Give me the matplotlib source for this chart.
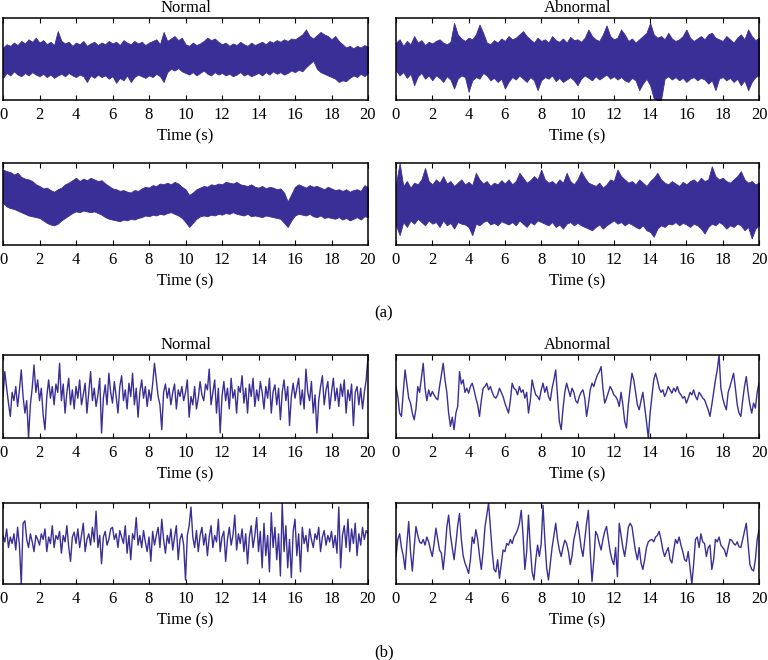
import numpy as np
import matplotlib
matplotlib.use("Agg")
import matplotlib.pyplot as plt

# (a) panels: dense signals, stored as upper / lower peak values every 0.2 s
a_normal1_hi = [64, 68, 66, 70, 67, 72, 69, 74, 71, 76,
                70, 73, 68, 71, 67, 84, 72, 69, 71, 66,
                70, 68, 72, 66, 69, 71, 67, 70, 68, 72,
                69, 71, 67, 73, 70, 68, 72, 69, 71, 67,
                70, 72, 74, 68, 83, 72, 75, 78, 73, 76,
                68, 66, 70, 67, 69, 72, 76, 73, 75, 71,
                68, 70, 66, 69, 67, 71, 68, 66, 70, 67,
                69, 71, 68, 72, 70, 73, 71, 74, 72, 75,
                74, 77, 80, 86, 78, 75, 79, 83, 80, 78,
                74, 78, 72, 68, 64, 66, 63, 66, 64, 67, 65]
a_normal1_lo = [27, 33, 30, 35, 31, 29, 33, 30, 34, 31,
                29, 32, 28, 31, 27, 30, 32, 29, 33, 30,
                28, 31, 29, 22, 30, 27, 31, 28, 30, 26,
                29, 21, 27, 24, 30, 22, 28, 31, 29, 27,
                30, 28, 32, 29, 22, 34, 38, 36, 39, 35,
                33, 31, 34, 30, 33, 36, 32, 30, 34, 31,
                33, 30, 32, 29, 31, 34, 30, 32, 29, 31,
                33, 30, 34, 31, 35, 32, 34, 31, 33, 36,
                34, 37, 35, 40, 44, 48, 38, 34, 32, 30,
                28, 26, 22, 24, 23, 27, 30, 28, 32, 29, 33]

a_abnormal1_hi = [70, 74, 66, 72, 68, 78, 70, 73, 67, 71,
                  69, 72, 74, 70, 68, 71, 94, 80, 75, 72,
                  76, 74, 80, 92, 82, 70, 68, 73, 70, 75,
                  72, 78, 74, 76, 80, 84, 78, 74, 70, 76,
                  72, 74, 70, 78, 73, 71, 75, 70, 77, 73,
                  74, 71, 76, 86, 78, 74, 72, 80, 91, 78,
                  74, 76, 86, 80, 72, 75, 70, 74, 78, 82,
                  94, 80, 76, 78, 74, 82, 75, 72, 74, 78,
                  86, 76, 72, 75, 78, 74, 80, 82, 76, 74,
                  72, 78, 74, 70, 76, 80, 74, 86, 78, 73, 76]
a_abnormal1_lo = [36, 30, 34, 27, 32, 18, 29, 33, 26, 30,
                  24, 30, 27, 22, 29, 25, 14, 26, 30, 28,
                  10, 24, 28, 26, 33, 30, 24, 27, 22, 26,
                  14, 22, 28, 25, 30, 26, 22, 28, 24, 12,
                  24, 28, 26, 30, 23, 27, 22, 25, 28, 24,
                  18, 26, 30, 27, 24, 29, 25, 28, 31, 26,
                  29, 25, 28, 24, 22, 27, 24, 12, 20, 26,
                  18, 2, 0, 0, 26, 29, 25, 28, 24, 27,
                  22, 26, 28, 24, 27, 25, 20, 24, 12, 26,
                  28, 24, 27, 22, 26, 18, 24, 12, 22, 28, 30]

a_normal2_hi = [92, 90, 89, 86, 88, 83, 81, 80, 78, 74,
                72, 69, 70, 67, 65, 68, 70, 74, 76, 79,
                82, 78, 81, 79, 82, 80, 78, 79, 75, 72,
                69, 68, 66, 67, 65, 64, 67, 66, 69, 71,
                70, 73, 72, 75, 74, 76, 74, 77, 75, 71,
                68, 61, 64, 68, 70, 72, 71, 74, 73, 75,
                74, 77, 76, 75, 77, 74, 73, 72, 74, 71,
                70, 72, 69, 71, 70, 68, 69, 64, 53, 62,
                71, 74, 72, 70, 73, 71, 72, 70, 68, 71,
                69, 67, 68, 66, 68, 65, 67, 68, 66, 73, 70]
a_normal2_lo = [51, 47, 45, 44, 42, 40, 38, 36, 35, 34,
                33, 30, 27, 25, 24, 26, 30, 33, 36, 39,
                41, 40, 42, 41, 40, 41, 39, 37, 34, 32,
                31, 30, 29, 31, 30, 32, 31, 33, 34, 36,
                35, 37, 36, 38, 37, 39, 40, 38, 36, 33,
                28, 22, 27, 32, 35, 36, 35, 37, 36, 38,
                37, 39, 38, 40, 38, 37, 36, 38, 35, 36,
                35, 34, 36, 35, 34, 33, 32, 27, 22, 30,
                36, 38, 37, 36, 38, 35, 34, 36, 33, 34,
                33, 32, 34, 31, 33, 30, 32, 34, 31, 35, 34]

a_abnormal2_hi = [75, 100, 72, 78, 70, 76, 74, 80, 94, 78,
                  74, 80, 76, 84, 75, 78, 72, 76, 80, 74,
                  77, 73, 88, 80, 75, 78, 72, 76, 74, 79,
                  75, 80, 74, 78, 88, 82, 76, 79, 84, 80,
                  92, 80, 76, 78, 74, 80, 76, 88, 78, 74,
                  80, 90, 82, 76, 74, 72, 76, 70, 74, 80,
                  78, 92, 84, 80, 76, 78, 74, 80, 76, 72,
                  78, 82, 88, 80, 76, 74, 78, 75, 72, 77,
                  74, 78, 80, 76, 82, 78, 80, 96, 84, 80,
                  82, 78, 76, 80, 84, 90, 80, 76, 78, 74, 76]
a_abnormal2_lo = [24, 12, 28, 22, 30, 26, 32, 28, 24, 30,
                  26, 28, 22, 30, 24, 27, 20, 28, 26, 25,
                  22, 12, 26, 24, 28, 30, 25, 27, 24, 29,
                  27, 25, 28, 24, 30, 26, 22, 28, 25, 30,
                  28, 26, 24, 28, 22, 25, 20, 26, 28, 24,
                  27, 24, 22, 20, 18, 22, 25, 20, 24, 27,
                  30, 26, 28, 24, 27, 25, 22, 20, 24, 18,
                  16, 10, 20, 24, 22, 26, 25, 28, 24, 27,
                  25, 22, 26, 24, 20, 14, 22, 26, 24, 28,
                  25, 20, 24, 22, 26, 24, 18, 22, 8, 20, 24]

# (b) panels: signal values every 0.1 s
b_normal1 = [50, 80, 60, 42, 26, 55, 45, 62, 38, 58,
             82, 50, 30, 45, 0, 40, 60, 88, 55, 70,
             45, 60, 28, 10, 50, 70, 48, 62, 40, 65,
             55, 90, 45, 65, 30, 55, 72, 40, 58, 35,
             62, 48, 70, 40, 52, 66, 30, 55, 80, 45,
             60, 38, 52, 72, 6, 48, 64, 40, 78, 55,
             42, 68, 50, 30, 62, 75, 45, 58, 35, 66,
             50, 78, 40, 60, 25, 55, 70, 48, 62, 38,
             58, 45, 65, 90, 70, 50, 40, 10, 55, 65,
             48, 60, 40, 55, 65, 35, 58, 50, 62, 45,
             55, 70, 25, 50, 40, 62, 35, 48, 68, 52,
             45, 65, 58, 83, 40, 55, 70, 30, 60, 6,
             50, 68, 45, 60, 35, 72, 48, 58, 30, 62,
             55, 75, 42, 60, 30, 65, 50, 72, 38, 58,
             45, 68, 55, 35, 62, 48, 72, 30, 56, 64,
             40, 60, 22, 55, 70, 45, 62, 15, 50, 66,
             48, 60, 72, 40, 58, 35, 83, 55, 45, 68,
             30, 52, 6, 45, 62, 75, 40, 58, 68, 35,
             55, 72, 45, 60, 38, 65, 50, 70, 30, 58,
             45, 65, 15, 55, 62, 40, 60, 35, 55, 70, 98]
b_abnormal1 = [62, 50, 30, 26, 55, 82, 65, 48, 42, 30,
               22, 35, 62, 55, 72, 90, 60, 45, 58, 50,
               56, 52, 48, 46, 62, 76, 90, 70, 55, 30,
               14, 25, 10, 30, 38, 80, 65, 70, 55, 60,
               54, 62, 66, 58, 48, 40, 26, 45, 60, 62,
               66, 58, 62, 55, 50, 48, 52, 60, 55, 50,
               42, 36, 30, 45, 66, 60, 58, 52, 62, 55,
               58, 48, 55, 30, 45, 70, 60, 52, 50, 46,
               58, 66, 55, 62, 50, 45, 60, 70, 82, 50,
               20, 10, 35, 55, 66, 58, 50, 60, 55, 45,
               42, 50, 55, 58, 48, 26, 40, 58, 66, 62,
               70, 76, 80, 86, 60, 42, 48, 55, 62, 58,
               52, 50, 46, 38, 55, 40, 20, 12, 40, 60,
               78, 70, 55, 40, 34, 45, 55, 38, 20, 0,
               30, 50, 70, 78, 70, 60, 55, 58, 50, 55,
               62, 58, 54, 60, 56, 62, 55, 52, 48, 50,
               42, 48, 55, 52, 58, 50, 46, 55, 52, 48,
               46, 40, 34, 26, 40, 55, 70, 82, 100, 60,
               48, 40, 34, 55, 62, 70, 78, 60, 40, 30,
               26, 45, 62, 74, 55, 40, 30, 42, 36, 55, 66]
b_normal2 = [60, 52, 68, 45, 58, 50, 62, 42, 70, 48,
             0, 75, 78, 55, 45, 62, 52, 40, 60, 55,
             48, 62, 55, 68, 40, 58, 50, 72, 45, 60,
             55, 65, 38, 60, 52, 72, 46, 28, 58, 64,
             50, 68, 45, 60, 75, 40, 55, 62, 48, 70,
             52, 90, 45, 60, 25, 58, 65, 48, 55, 68,
             70, 55, 62, 45, 66, 58, 50, 72, 38, 60,
             30, 62, 55, 82, 48, 60, 45, 66, 52, 40,
             58, 28, 65, 48, 60, 70, 45, 80, 55, 38,
             60, 50, 68, 42, 58, 72, 30, 55, 62, 48,
             5, 60, 72, 95, 58, 45, 66, 40, 60, 70,
             48, 62, 35, 58, 72, 45, 60, 52, 80, 40,
             58, 65, 28, 55, 70, 48, 60, 85, 42, 62,
             50, 68, 40, 62, 25, 58, 72, 45, 60, 82,
             40, 65, 20, 75, 35, 60, 15, 88, 45, 70,
             30, 62, 10, 100, 40, 72, 20, 55, 8, 65,
             80, 35, 62, 15, 70, 50, 60, 40, 68, 55,
             45, 62, 55, 70, 40, 58, 66, 48, 60, 52,
             65, 45, 60, 38, 95, 20, 60, 72, 45, 80,
             40, 68, 50, 75, 35, 62, 48, 70, 55, 66, 62]
b_abnormal2 = [34, 55, 62, 45, 35, 18, 50, 77, 40, 16,
               45, 71, 60, 52, 50, 55, 48, 58, 52, 42,
               34, 50, 69, 55, 42, 38, 18, 40, 70, 85,
               60, 45, 30, 50, 72, 87, 55, 35, 26, 20,
               13, 30, 58, 50, 67, 55, 35, 18, 40, 70,
               85, 100, 70, 40, 18, 15, 30, 7, 25, 42,
               40, 50, 48, 55, 50, 58, 62, 67, 75, 91,
               60, 18, 40, 85, 45, 15, 5, 30, 48, 34,
               50, 97, 55, 20, 5, 25, 45, 60, 75, 55,
               42, 34, 45, 54, 50, 40, 24, 35, 55, 65,
               77, 62, 45, 34, 55, 75, 91, 40, 3, 30,
               65, 60, 50, 42, 55, 65, 71, 55, 40, 30,
               24, 45, 9, 75, 60, 45, 34, 50, 70, 75,
               71, 55, 40, 30, 45, 26, 18, 30, 45, 52,
               54, 55, 52, 58, 60, 65, 55, 42, 34, 40,
               45, 30, 26, 42, 55, 50, 58, 48, 40, 30,
               28, 40, 20, 0, 25, 55, 58, 45, 62, 52,
               50, 34, 45, 48, 18, 30, 55, 52, 58, 48,
               45, 42, 34, 45, 55, 54, 50, 48, 52, 46,
               45, 55, 65, 75, 50, 24, 18, 16, 30, 55, 67]

x_ticks = list(range(0, 21, 2))
line_color = "#3a2f96"
fs = 12

plt.rcParams["font.family"] = ["Liberation Serif", "DejaVu Serif"]
plt.rcParams["font.size"] = fs


def style_axis(ax, title=None):
    ax.set_xlim(0, 20)
    ax.set_ylim(0, 100)
    ax.set_xticks(x_ticks)
    ax.set_yticks([])
    ax.tick_params(axis="x", direction="in", top=True, length=3.5, width=0.8, pad=5, labelsize=fs)
    for s in ax.spines.values():
        s.set_linewidth(1.1)
    ax.set_xlabel("Time (s)", fontsize=fs, labelpad=4)
    if title:
        ax.set_title(title, fontsize=fs, pad=4)


fig = plt.figure(figsize=(7.68, 6.6), dpi=100)

col_left = [3 / 768, 396 / 768]
col_w = [365 / 768, 363 / 768]
rows = [(18, 100), (163, 245), (355, 438), (503, 584)]


def make_ax(r, c):
    top, bot = rows[r]
    return fig.add_axes([col_left[c], 1 - bot / 660, col_w[c], (bot - top) / 660])


titles = ["Normal", "Abnormal", None, None]

# (a): the dense trace fills the band between its upper and lower peaks
dense = [(a_normal1_hi, a_normal1_lo), (a_abnormal1_hi, a_abnormal1_lo),
         (a_normal2_hi, a_normal2_lo), (a_abnormal2_hi, a_abnormal2_lo)]
for i, (hi, lo) in enumerate(dense):
    ax = make_ax(i // 2, i % 2)
    t = np.linspace(0, 20, len(hi))
    ax.fill_between(t, lo, hi, color=line_color, linewidth=0.6, edgecolor=line_color)
    style_axis(ax, titles[i])

sparse = [b_normal1, b_abnormal1, b_normal2, b_abnormal2]
for i, y in enumerate(sparse):
    ax = make_ax(2 + i // 2, i % 2)
    t = np.linspace(0, 20, len(y))
    ax.plot(t, y, color=line_color, linewidth=1.0)
    style_axis(ax, titles[i])

fig.text(0.5, 1 - 313 / 660, "(a)", ha="center", va="center", fontsize=fs)
fig.text(0.5, 1 - 652 / 660, "(b)", ha="center", va="center", fontsize=fs)

fig.savefig("out.png", dpi=100)
